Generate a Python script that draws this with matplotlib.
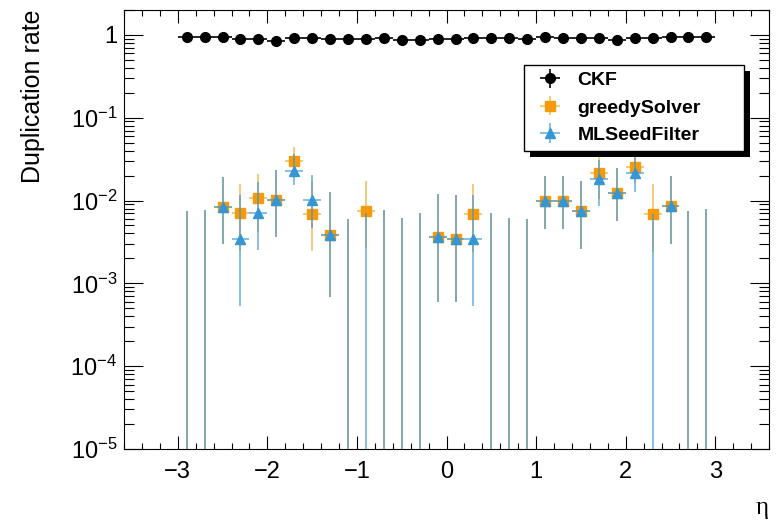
"""Duplication rate vs eta for CKF, greedySolver and MLSeedFilter"""
import numpy as np
import matplotlib
matplotlib.use("Agg")
import matplotlib.pyplot as plt
import matplotlib.patheffects as pe
from matplotlib.ticker import FuncFormatter, MultipleLocator, LogLocator, NullFormatter

plt.rcParams['font.family'] = ['Liberation Sans', 'DejaVu Sans']
plt.rcParams['mathtext.fontset'] = 'custom'
plt.rcParams['mathtext.rm'] = 'Liberation Sans'
plt.rcParams['mathtext.it'] = 'Liberation Sans:italic'
plt.rcParams['mathtext.bf'] = 'Liberation Sans:bold'

# Data (bins of 0.2 in eta)
eta = [-2.9, -2.7, -2.5, -2.3, -2.1, -1.9, -1.7, -1.5, -1.3, -1.1,
       -0.9, -0.7, -0.5, -0.3, -0.1, 0.1, 0.3, 0.5, 0.7, 0.9,
       1.1, 1.3, 1.5, 1.7, 1.9, 2.1, 2.3, 2.5, 2.7, 2.9]
eta_halfwidth = 0.1

ckf = [0.93, 0.95, 0.95, 0.89, 0.89, 0.85, 0.91, 0.91, 0.89, 0.89,
       0.89, 0.91, 0.87, 0.87, 0.89, 0.89, 0.91, 0.91, 0.91, 0.89,
       0.95, 0.91, 0.91, 0.91, 0.86, 0.91, 0.91, 0.95, 0.95, 0.93]

greedy = [0, 0, 8.3e-3, 7.0e-3, 0.0108, 0.0102, 0.0298, 6.8e-3, 3.8e-3, 0,
          7.4e-3, 0, 0, 0, 3.6e-3, 3.4e-3, 6.9e-3, 0, 0, 0,
          9.8e-3, 0.0100, 7.4e-3, 0.0217, 0.0123, 0.0252, 6.9e-3, 8.6e-3, 0, 0]
greedy_hi = [7.4e-3, 7.7e-3, 0.0191, 0.0159, 0.0210, 0.0234, 0.0439, 0.0174, 0.0126, 6.0e-3,
             0.0171, 7.6e-3, 6.1e-3, 7.0e-3, 0.0121, 0.0115, 0.0159, 7.0e-3, 6.1e-3, 6.0e-3,
             0.0195, 0.0198, 0.0174, 0.0348, 0.0248, 0.0358, 0.0159, 0.0200, 7.4e-3, 7.8e-3]
greedy_lo = [0, 0, 2.95e-3, 2.5e-3, 4.2e-3, 3.6e-3, 0.019, 2.45e-3, 6.8e-4, 0,
             2.64e-3, 0, 0, 0, 5.9e-4, 5.9e-4, 2.4e-3, 0, 0, 0,
             4.5e-3, 4.5e-3, 2.6e-3, 0.0105, 5.6e-3, 0.0165, 2.4e-3, 3.0e-3, 0, 0]

mlsf = [0, 0, 8.3e-3, 3.4e-3, 7.0e-3, 0.0102, 0.0230, 0.0102, 3.8e-3, 0,
        0, 0, 0, 0, 3.6e-3, 3.4e-3, 3.4e-3, 0, 0, 0,
        9.8e-3, 0.0100, 7.4e-3, 0.0183, 0.0123, 0.0217, 0, 8.6e-3, 0, 0]
mlsf_hi = [7.4e-3, 7.7e-3, 0.0191, 0.0115, 0.0166, 0.0234, 0.0368, 0.0204, 0.0126, 6.0e-3,
           7.0e-3, 7.6e-3, 6.1e-3, 7.0e-3, 0.0121, 0.0115, 0.0115, 7.0e-3, 6.1e-3, 6.0e-3,
           0.0195, 0.0198, 0.0174, 0.0310, 0.0248, 0.0335, 6.9e-3, 0.0200, 7.4e-3, 7.8e-3]
mlsf_lo = [0, 0, 2.95e-3, 5.4e-4, 2.55e-3, 3.6e-3, 0.0152, 4.6e-3, 6.8e-4, 0,
           0, 0, 0, 0, 5.9e-4, 5.9e-4, 5.4e-4, 0, 0, 0,
           4.5e-3, 4.5e-3, 2.6e-3, 8.5e-3, 5.6e-3, 0.0125, 0, 3.0e-3, 0, 0]

c_orange = '#f59a0c'
c_blue = '#3596d2'


def asym(y, lo, hi):
    y = np.array(y)
    return np.vstack([y - np.array(lo), np.array(hi) - y])


fig = plt.figure(figsize=(7.8, 5.23), dpi=100)
ax = fig.add_axes([0.159, 0.1415, 0.827, 0.8395])
ax.set_yscale('log', nonpositive='clip')

ax.errorbar(eta, ckf, xerr=eta_halfwidth, yerr=0, fmt='o', color='black',
            ms=7, lw=1.2, capsize=0, label='CKF', zorder=3)
eb1 = ax.errorbar(eta, greedy, xerr=eta_halfwidth, yerr=asym(greedy, greedy_lo, greedy_hi),
                  fmt='s', color=c_orange, ecolor=c_orange, ms=7, elinewidth=1.3,
                  capsize=0, label='greedySolver', zorder=4)
eb2 = ax.errorbar(eta, mlsf, xerr=eta_halfwidth, yerr=asym(mlsf, mlsf_lo, mlsf_hi),
                  fmt='^', color=c_blue, ecolor=c_blue, ms=7, elinewidth=1.3,
                  capsize=0, label='MLSeedFilter', zorder=5)
for col in eb1[2]:
    col.set_alpha(0.6)
for col in eb2[2]:
    col.set_alpha(0.65)

ax.set_xlim(-3.6, 3.6)
ax.set_ylim(1e-5, 2.0)

ax.xaxis.set_major_locator(MultipleLocator(1))
ax.xaxis.set_minor_locator(MultipleLocator(0.2))
ax.yaxis.set_major_locator(LogLocator(base=10, numticks=10))
ax.yaxis.set_minor_locator(LogLocator(base=10, subs=np.arange(2, 10), numticks=20))
ax.yaxis.set_minor_formatter(NullFormatter())


def ylab(v, pos):
    n = int(round(np.log10(v)))
    if n == 0:
        return '1'
    return r'$10^{%d}$' % n


ax.yaxis.set_major_formatter(FuncFormatter(ylab))
ax.xaxis.set_major_formatter(FuncFormatter(lambda v, p: '%d' % v if v >= 0 else '\u2212%d' % -v))

ax.tick_params(which='both', direction='in', top=True, right=True, width=0.8, labelsize=17)
ax.tick_params(axis='x', which='major', length=9.5, pad=9)
ax.tick_params(axis='x', which='minor', length=4.5)
ax.tick_params(axis='y', which='major', length=14, pad=5)
ax.tick_params(axis='y', which='minor', length=7)
for s in ax.spines.values():
    s.set_linewidth(0.8)

ax.set_ylabel('Duplication rate', fontsize=18, loc='top', labelpad=18)
ax.set_xlabel('\u03b7', fontsize=18, loc='right', family='Liberation Serif', labelpad=10)

leg = ax.legend(loc='upper left', bbox_to_anchor=(0.620, 0.875, 0.341, 0.0), mode='expand',
                fancybox=False, framealpha=1, edgecolor='black',
                prop={'weight': 'bold', 'size': 14},
                borderpad=0.35, labelspacing=0.5, handlelength=2.0, handletextpad=0.4,
                borderaxespad=0)
leg.get_frame().set_linewidth(1.0)
leg.get_frame().set_path_effects([
    pe.SimplePatchShadow(offset=(4.5, -4.5), shadow_rgbFace='black', alpha=1.0),
    pe.Normal()])

fig.savefig('out.png', dpi=100)
